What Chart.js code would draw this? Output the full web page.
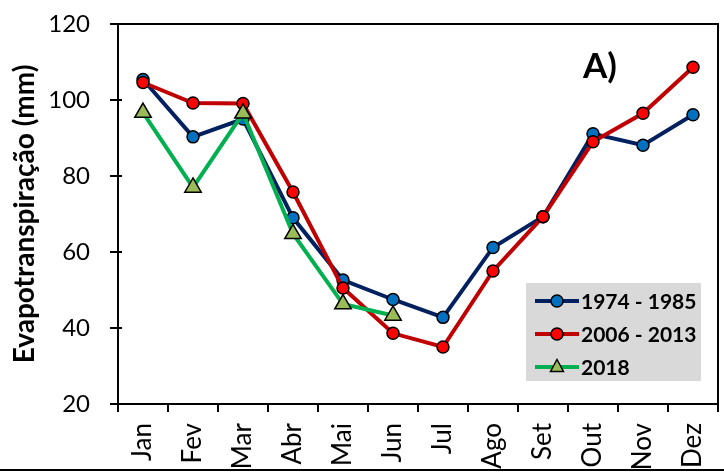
<!DOCTYPE html>
<html><head><meta charset="utf-8">
<script src="https://cdn.jsdelivr.net/npm/chart.js@4.4.1/dist/chart.umd.min.js"></script>
<style>
html,body{margin:0;padding:0;background:#fff;}
#wrap{position:relative;width:724px;height:474px;overflow:hidden;}
#rule{position:absolute;left:0;top:469px;width:724px;height:2px;background:#000;}
</style>
</head><body>
<div id="wrap"><canvas id="c" width="724" height="474"></canvas><div id="rule"></div></div>
<script>
const months = ['Jan','Fev','Mar','Abr','Mai','Jun','Jul','Ago','Set','Out','Nov','Dez'];
const label1974 = '1974 - 1985';
const label2006 = '2006 - 2013';
const label2018 = '2018';
const et1974 = [105.4, 90.3, 95.0, 69.0, 52.6, 47.5, 42.8, 61.2, 69.3, 91.1, 88.1, 96.1];
const et2006 = [104.6, 99.2, 99.1, 75.8, 50.5, 38.6, 35.0, 55.0, 69.3, 89.0, 96.5, 108.6];
const et2018 = [96.7, 77.0, 96.5, 64.8, 46.3, 43.3, null, null, null, null, null, null];
const yTitle = 'Evapotranspiração (mm)';
const panelTag = 'A)';
const yMin = 20, yMax = 120, yStep = 20;

const FONT = 'Lato, "Liberation Sans", sans-serif';

const framePlugin = {
  id: 'frame',
  beforeDatasetsDraw(chart) {
    const {ctx, chartArea: a, scales} = chart;
    ctx.save();
    ctx.strokeStyle = '#000';
    ctx.lineWidth = 2;
    ctx.beginPath();
    ctx.moveTo(a.left, a.top); ctx.lineTo(a.right, a.top); ctx.lineTo(a.right, a.bottom);
    const y = scales.y;
    y.ticks.forEach(t => {
      const py = Math.round(y.getPixelForValue(t.value));
      ctx.moveTo(a.left - 8, py); ctx.lineTo(a.left + 4, py);
    });
    const x = scales.x;
    const n = months.length;
    for (let i = 0; i <= n; i++) {
      const px = Math.round(x.getPixelForDecimal(i / n));
      ctx.moveTo(px, a.bottom); ctx.lineTo(px, a.bottom + 8);
    }
    ctx.stroke();
    ctx.restore();
  },
  afterDraw(chart) {
    const ctx = chart.ctx;
    ctx.save();
    ctx.fillStyle = '#000';
    ctx.font = 'bold 35px ' + FONT;
    ctx.textBaseline = 'alphabetic';
    ctx.textAlign = 'left';
    ctx.fillText(panelTag, 583, 78);
    ctx.fillStyle = '#d9d9d9';
    ctx.fillRect(526, 283, 175, 98);
    const rows = [301, 334, 367];
    [0, 1, 2].forEach((i, k) => {
      const ds = chart.data.datasets[i];
      const yy = rows[k];
      ctx.strokeStyle = ds.borderColor;
      ctx.lineWidth = 4;
      ctx.beginPath(); ctx.moveTo(535, yy); ctx.lineTo(579, yy); ctx.stroke();
      ctx.fillStyle = ds.pointBackgroundColor;
      ctx.strokeStyle = '#000';
      ctx.lineWidth = 1.5;
      ctx.beginPath();
      if (ds.pointStyle === 'triangle') {
        const r = 7.5;
        ctx.moveTo(557, yy - r);
        ctx.lineTo(557 + r * 0.866, yy + r * 0.6);
        ctx.lineTo(557 - r * 0.866, yy + r * 0.6);
        ctx.closePath();
      } else {
        ctx.arc(557, yy, 6, 0, Math.PI * 2);
      }
      ctx.fill(); ctx.stroke();
      ctx.fillStyle = '#000';
      ctx.font = 'bold 21px ' + FONT;
      ctx.textBaseline = 'middle';
      ctx.fillText(ds.label, 581, yy + 1);
    });
    ctx.restore();
  }
};

new Chart(document.getElementById('c'), {
  type: 'line',
  data: {
    labels: months,
    datasets: [
      { label: label1974, data: et1974, borderColor: '#002060', backgroundColor: '#0070c0',
        pointBackgroundColor: '#0070c0', pointBorderColor: '#000', pointBorderWidth: 1.5,
        pointRadius: 6, borderWidth: 4, order: 3, pointStyle: 'circle' },
      { label: label2006, data: et2006, borderColor: '#c00000', backgroundColor: '#ff0000',
        pointBackgroundColor: '#ff0000', pointBorderColor: '#000', pointBorderWidth: 1.5,
        pointRadius: 6, borderWidth: 4, order: 2, pointStyle: 'circle' },
      { label: label2018, data: et2018, borderColor: '#00b050', backgroundColor: '#9bbb59',
        pointBackgroundColor: '#9bbb59', pointBorderColor: '#000', pointBorderWidth: 1.5,
        pointRadius: 9.5, borderWidth: 4, order: 1, pointStyle: 'triangle', spanGaps: false }
    ]
  },
  options: {
    responsive: false,
    animation: false,
    devicePixelRatio: 1,
    layout: { autoPadding: false, padding: { top: 24, right: 6, left: 0, bottom: 0 } },
    plugins: { legend: { display: false }, tooltip: { enabled: false } },
    elements: { line: { tension: 0 } },
    scales: {
      x: {
        type: 'category',
        offset: true,
        grid: { offset: true, drawOnChartArea: false, drawTicks: true, tickLength: 19, color: 'rgba(0,0,0,0)' },
        border: { display: true, color: '#000', width: 2 },
        ticks: { color: '#000', font: { family: FONT, size: 26, lineHeight: 1 }, minRotation: 90, maxRotation: 90, padding: 0, autoSkip: false },
        afterFit(scale) { scale.height = 70; scale.paddingRight = 0; scale.paddingLeft = 0; }
      },
      y: {
        min: yMin, max: yMax,
        grid: { drawOnChartArea: false, drawTicks: true, tickLength: 28, color: 'rgba(0,0,0,0)' },
        border: { display: true, color: '#000', width: 2 },
        ticks: { stepSize: yStep, color: '#000', font: { family: FONT, size: 24, lineHeight: 1 }, padding: 0 },
        title: { display: true, text: yTitle, color: '#000', font: { family: FONT, size: 28, weight: 'bold' }, padding: { top: 8, bottom: 0 } },
        afterFit(scale) { scale.width = 118; }
      }
    }
  },
  plugins: [framePlugin]
});
</script>
</body></html>
